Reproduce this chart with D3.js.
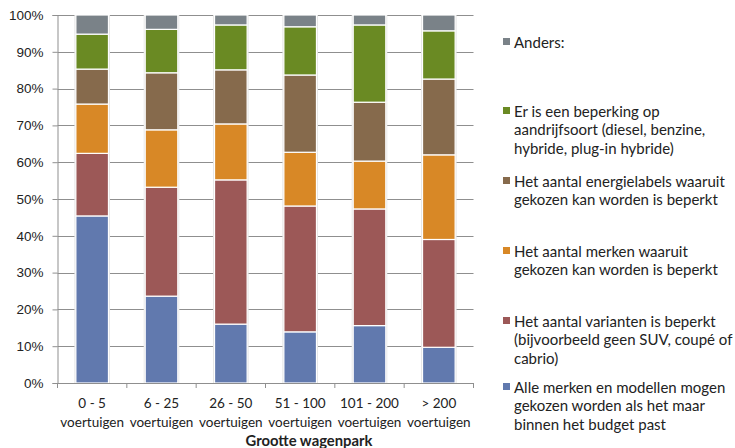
<!DOCTYPE html>
<html>
<head>
<meta charset="utf-8">
<script src="https://cdn.jsdelivr.net/npm/d3@7"></script>
<style>
  html, body { margin: 0; padding: 0; background: #fff; }
  svg { display: block; font-family: Lato, "Open Sans", "Noto Sans", sans-serif; }
</style>
</head>
<body>
<svg id="chart" width="735" height="448"></svg>
<script>
// Fleet size groups
const categories = [
  ["0 - 5", "voertuigen"],
  ["6 - 25", "voertuigen"],
  ["26 - 50", "voertuigen"],
  ["51 - 100", "voertuigen"],
  ["101 - 200", "voertuigen"],
  ["> 200", "voertuigen"]
];

// Share per answer, percent, bottom to top of each stack
const alleMerken   = [45.4, 23.6, 16.0, 13.9, 15.6,  9.7];
const varianten    = [17.0, 29.6, 39.2, 34.2, 31.7, 29.3];
const merken       = [13.4, 15.6, 15.2, 14.6, 13.0, 23.0];
const energielabel = [ 9.5, 15.5, 14.7, 21.0, 16.0, 20.6];
const aandrijving  = [ 9.5, 11.8, 12.2, 13.1, 21.0, 13.1];
const anders       = [ 5.2,  3.9,  2.7,  3.2,  2.7,  4.3];

const yTicks = [0, 10, 20, 30, 40, 50, 60, 70, 80, 90, 100];
const xTitle = "Grootte wagenpark";

const series = [
  { key: "alle", values: alleMerken, color: "#6179ae",
    label: ["Alle merken en modellen mogen", "gekozen worden als het maar", "binnen het budget past"] },
  { key: "var", values: varianten, color: "#9c5857",
    label: ["Het aantal varianten is beperkt", "(bijvoorbeeld geen SUV, coupé of", "cabrio)"] },
  { key: "merk", values: merken, color: "#d88826",
    label: ["Het aantal merken waaruit", "gekozen kan worden is beperkt"] },
  { key: "label", values: energielabel, color: "#866a4c",
    label: ["Het aantal energielabels waaruit", "gekozen kan worden is beperkt"] },
  { key: "aandr", values: aandrijving, color: "#6a8a23",
    label: ["Er is een beperking op", "aandrijfsoort (diesel, benzine,", "hybride, plug-in hybride)"] },
  { key: "anders", values: anders, color: "#7a8288",
    label: ["Anders:"] }
];

const rows = categories.map((c, i) => {
  const r = { cat: c[0] };
  series.forEach(s => { r[s.key] = s.values[i]; });
  return r;
});

const stack = d3.stack().keys(series.map(s => s.key));
const stacked = stack(rows);

const svg = d3.select("#chart");
const m = { left: 57.5, right: 473.5, top: 15, bottom: 383 };

const x = d3.scaleBand()
  .domain(categories.map(c => c[0]))
  .range([m.left, m.right])
  .paddingInner(0.53)
  .paddingOuter(0.265);

const y = d3.scaleLinear().domain([0, 100]).range([m.bottom, m.top]);

// Horizontal gridlines
svg.append("g")
  .selectAll("line")
  .data(yTicks.filter(t => t > 0))
  .join("line")
  .attr("x1", m.left).attr("x2", m.right)
  .attr("y1", d => Math.round(y(d)) + 0.5).attr("y2", d => Math.round(y(d)) + 0.5)
  .attr("stroke", "#8f8f8f").attr("stroke-width", 1);

// Y axis
const yAxis = svg.append("g")
  .attr("transform", `translate(${m.left},0)`)
  .call(d3.axisLeft(y).tickValues(yTicks).tickFormat(d => d + "%").tickSize(5).tickPadding(9));
yAxis.select(".domain").attr("stroke", "#8f8f8f");
yAxis.selectAll(".tick line").attr("stroke", "#8f8f8f");
yAxis.selectAll("text").attr("font-size", 13.5).attr("fill", "#222");

// Stacked bars with a soft shadow edge
const layers = svg.append("g").selectAll("g")
  .data(stacked)
  .join("g")
  .attr("fill", (d, i) => series[i].color);

layers.selectAll("rect.shadow")
  .data(d => d)
  .join("rect")
  .attr("class", "shadow")
  .attr("x", d => x(d.data.cat) - 1.5)
  .attr("width", x.bandwidth() + 3)
  .attr("y", d => y(d[1]))
  .attr("height", d => y(d[0]) - y(d[1]))
  .attr("fill", "#e6e6e6");

layers.selectAll("rect.bar")
  .data(d => d)
  .join("rect")
  .attr("class", "bar")
  .attr("x", d => x(d.data.cat))
  .attr("width", x.bandwidth())
  .attr("y", d => y(d[1]))
  .attr("height", d => y(d[0]) - y(d[1]))
  .attr("stroke", "#fff")
  .attr("stroke-width", 1.2);

// X axis
const xAxis = svg.append("g")
  .attr("transform", `translate(0,${m.bottom})`)
  .call(d3.axisBottom(x).tickSize(0).tickFormat(""));
xAxis.select(".domain").attr("stroke", "#8f8f8f");

// Category boundary ticks
const bounds = d3.range(categories.length + 1).map(i => m.left + i * (m.right - m.left) / categories.length);
svg.append("g").selectAll("line")
  .data(bounds)
  .join("line")
  .attr("x1", d => d).attr("x2", d => d)
  .attr("y1", m.bottom).attr("y2", m.bottom + 5)
  .attr("stroke", "#8f8f8f");

// Two-line category labels
const catLabels = svg.append("g").selectAll("text")
  .data(categories)
  .join("text")
  .attr("x", d => x(d[0]) + x.bandwidth() / 2)
  .attr("y", 408)
  .attr("text-anchor", "middle")
  .attr("font-size", 13.5)
  .attr("fill", "#222");
catLabels.append("tspan").attr("x", d => x(d[0]) + x.bandwidth() / 2).text(d => d[0]);
catLabels.append("tspan").attr("x", d => x(d[0]) + x.bandwidth() / 2).attr("dy", 19).text(d => d[1]);

svg.append("text")
  .attr("x", 309).attr("y", 446)
  .attr("text-anchor", "middle")
  .attr("font-size", 14.8).attr("font-weight", "bold")
  .attr("fill", "#222")
  .text(xTitle);

// Legend, top entry first
const legendTops = { anders: 48, aandr: 117, label: 187, merk: 257, var: 327, alle: 393 };
const legend = svg.append("g").selectAll("g")
  .data(series)
  .join("g")
  .attr("transform", s => `translate(503,${legendTops[s.key]})`);

legend.append("rect")
  .attr("x", 0).attr("y", -10).attr("width", 7).attr("height", 7)
  .attr("fill", s => s.color);

legend.append("text")
  .attr("font-size", 15)
  .attr("fill", "#222")
  .selectAll("tspan")
  .data(s => s.label)
  .join("tspan")
  .attr("x", 11)
  .attr("y", (d, i) => i * 18.4)
  .text(d => d);
</script>
</body>
</html>
